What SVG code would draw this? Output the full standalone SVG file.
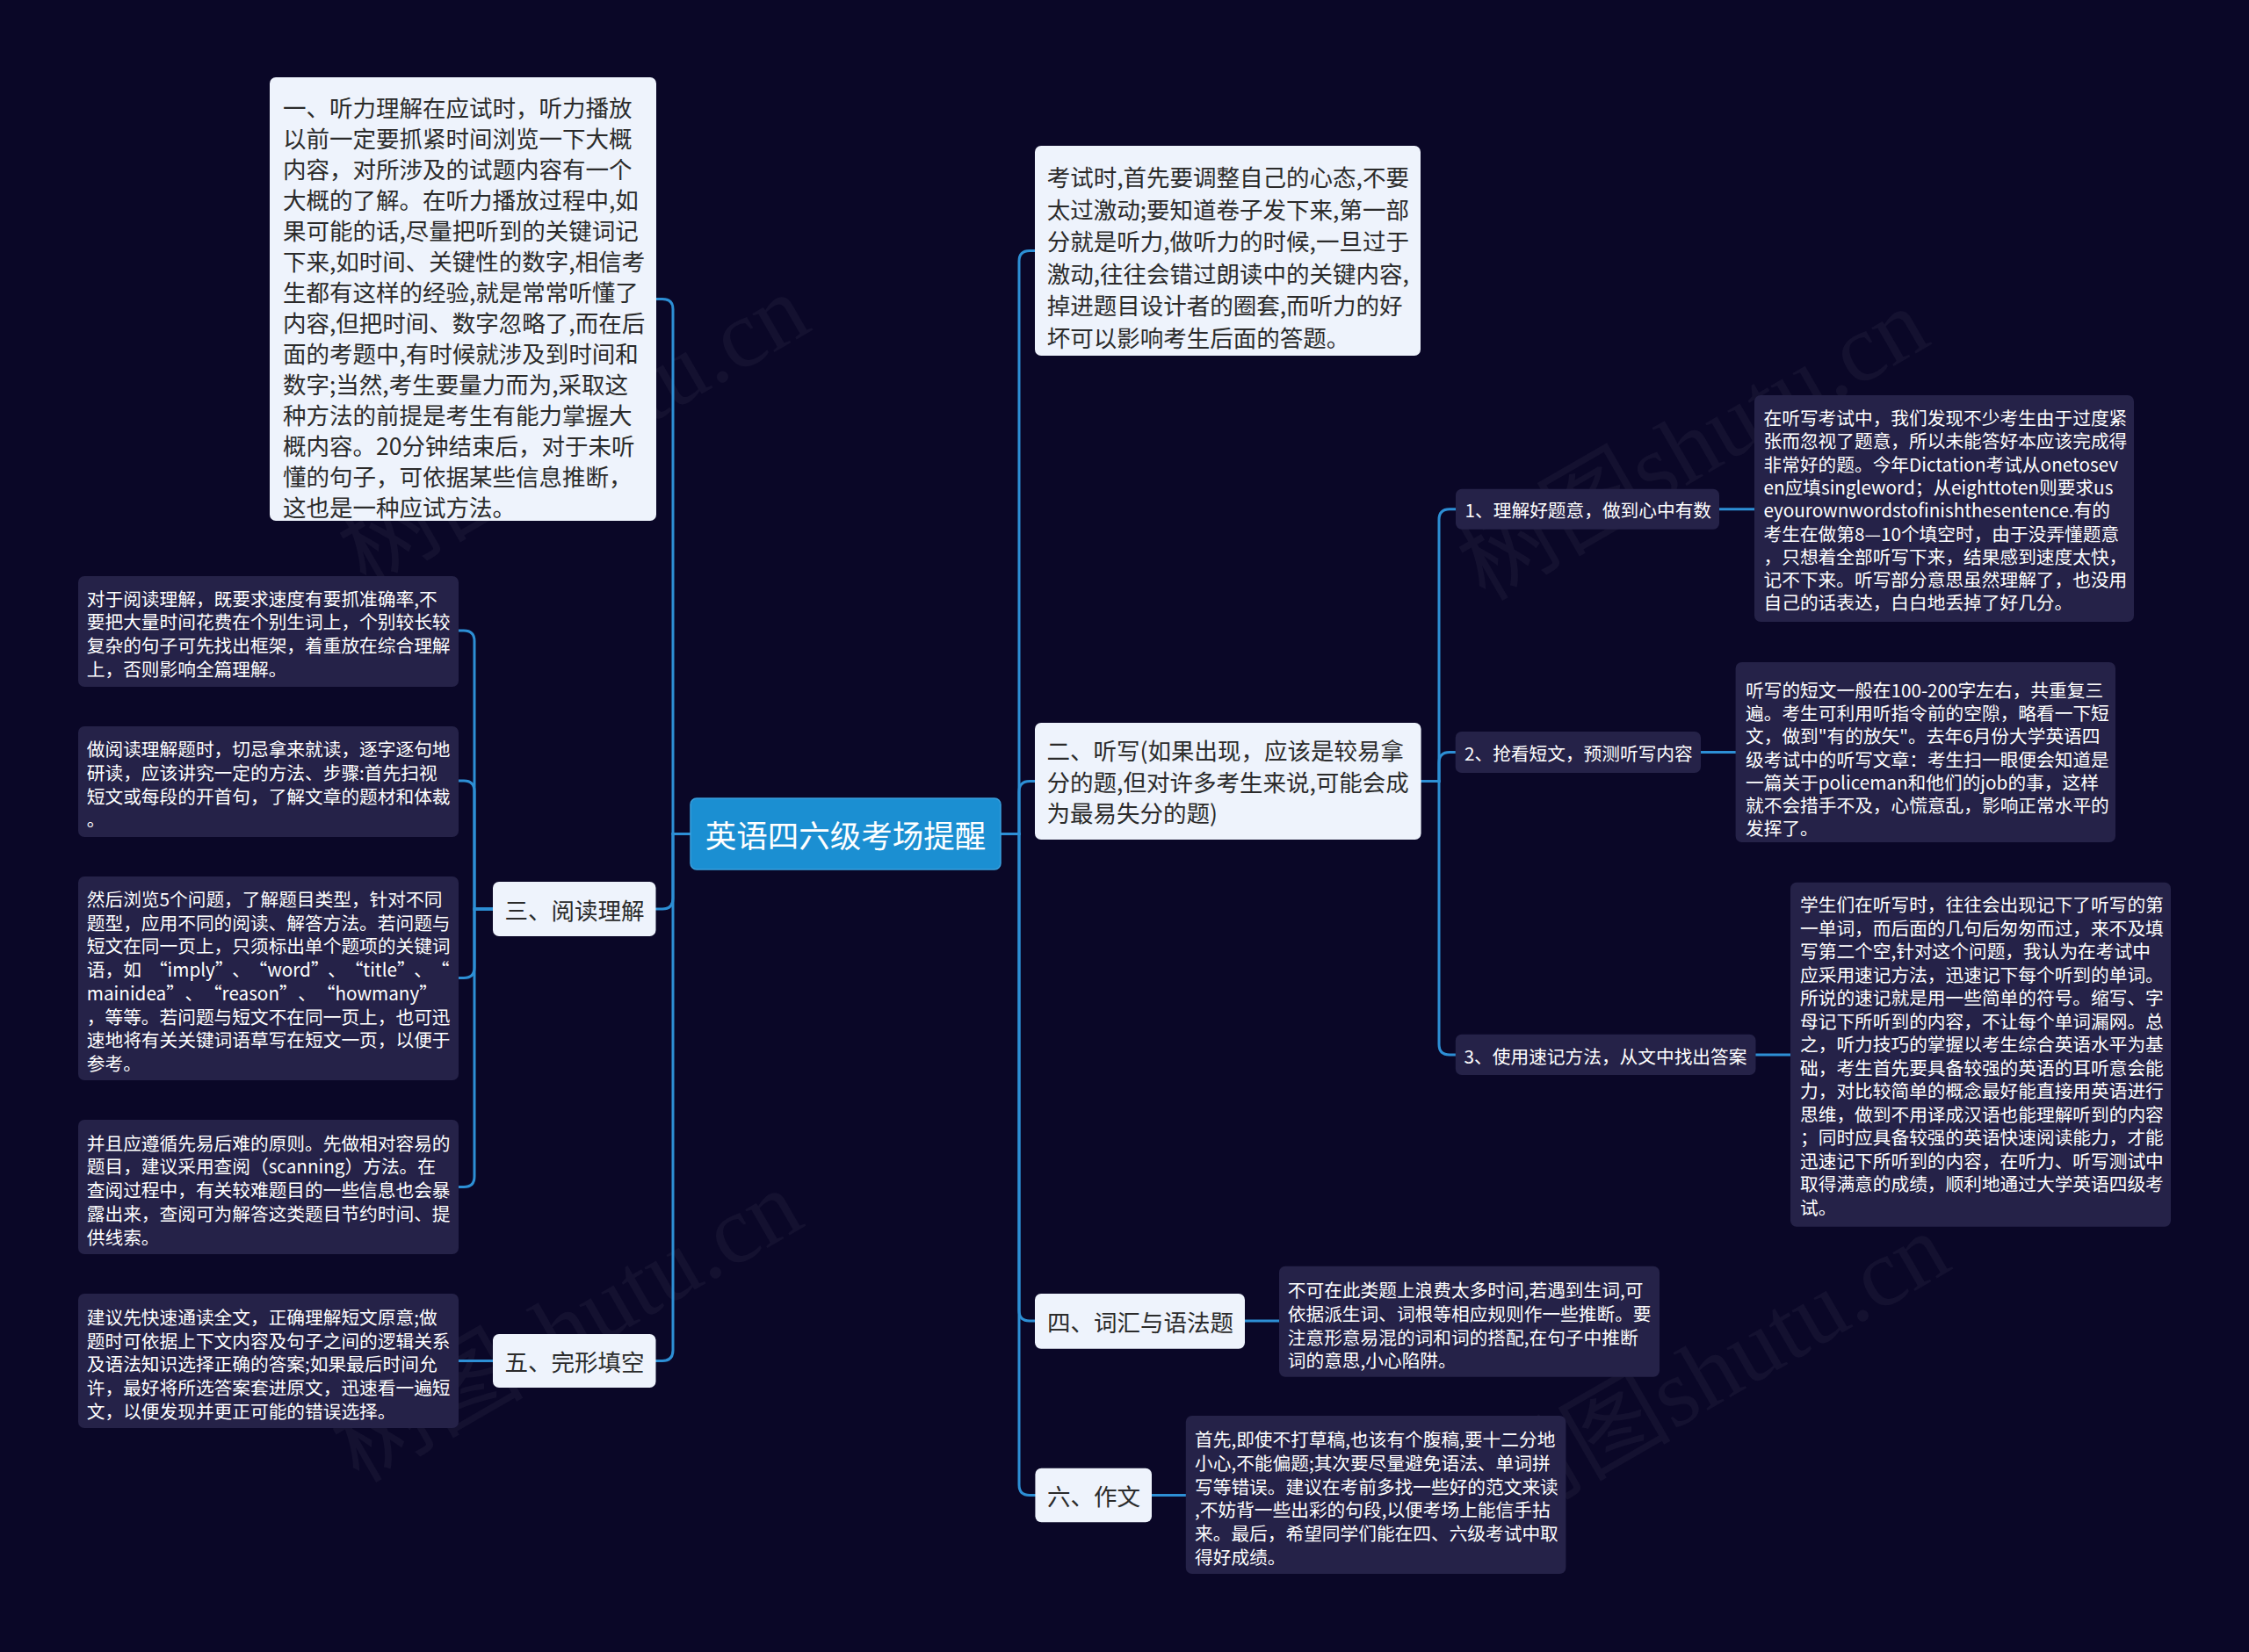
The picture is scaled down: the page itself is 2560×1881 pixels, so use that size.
<svg xmlns="http://www.w3.org/2000/svg" width="2560" height="1881" viewBox="0 0 2560 1881">
<style>
text{font-family:"Noto Sans CJK SC","Noto Sans",sans-serif;dominant-baseline:central}
.bg{fill:#0a0727}
.light{fill:#eef3fc}
.dark{fill:#252248}
.root{fill:#1b8fd2;stroke:#3aa0de;stroke-width:1.5}
.tl{font-size:26.5px;fill:#2b2b2b}
.ts{font-size:20.7px;fill:#ffffff}
.tr{font-size:35.5px;fill:#ffffff;text-anchor:middle}
.wm{font-size:110px;fill:#ffffff;fill-opacity:0.045;font-family:"Liberation Serif","Noto Sans CJK SC",serif}
#connectors path{fill:none;stroke:#2d8fd5;stroke-width:3;stroke-linecap:round}
</style>
<rect class="bg" x="0" y="0" width="2560" height="1881"/>
<g id="watermarks">
<text class="wm" x="653" y="490" text-anchor="middle" transform="rotate(-30 653 490)">树图shutu.cn</text>
<text class="wm" x="1927" y="506" text-anchor="middle" transform="rotate(-30 1927 506)">树图shutu.cn</text>
<text class="wm" x="645" y="1510" text-anchor="middle" transform="rotate(-30 645 1510)">树图shutu.cn</text>
<text class="wm" x="1951" y="1559" text-anchor="middle" transform="rotate(-30 1951 1559)">树图shutu.cn</text>
</g>
<g id="connectors">
<path d="M786 949.5 H766 V352 Q766 340.5 754 340.5 H747"/>
<path d="M786 949.5 H766 V1023 Q766 1035 754 1035 H746.5"/>
<path d="M786 949.5 H766 V1537.5 Q766 1549.5 754 1549.5 H746.5"/>
<path d="M561 1035 H540 V730 Q540 718 528 718 H522"/>
<path d="M561 1035 H540 V901 Q540 889 528 889 H522"/>
<path d="M561 1035 H540 V1101.5 Q540 1113.5 528 1113.5 H522"/>
<path d="M561 1035 H540 V1339.5 Q540 1351.5 528 1351.5 H522"/>
<path d="M561 1549.5 H522"/>
<path d="M1139 949.5 H1160 V297.5 Q1160 285.5 1172 285.5 H1178"/>
<path d="M1139 949.5 H1160 V901.5 Q1160 889.5 1172 889.5 H1178"/>
<path d="M1139 949.5 H1160 V1492 Q1160 1504 1172 1504 H1178"/>
<path d="M1139 949.5 H1160 V1690.5 Q1160 1702.5 1172 1702.5 H1178.4"/>
<path d="M1617.6 889.5 H1638 V591.7 Q1638 579.7 1650 579.7 H1657"/>
<path d="M1617.6 889.5 H1638 V868.5 Q1638 856.5 1650 856.5 H1656.7"/>
<path d="M1617.6 889.5 H1638 V1189 Q1638 1201 1650 1201 H1656.8"/>
<path d="M1957 579.7 H1997"/>
<path d="M1936 856.5 H1975.6"/>
<path d="M1998.5 1201 H2038"/>
<path d="M1417 1504 H1456"/>
<path d="M1311 1702.5 H1349.8"/>
</g>
<g id="root">
<rect class="root" x="786" y="909" width="353" height="81" rx="7"/>
<text class="tr" x="962.5" y="949.5">英语四六级考场提醒</text>
</g>
<g id="n-tingli">
<rect class="light" x="307" y="88" width="440" height="505" rx="7"/>
<text class="tl" x="322" y="121.7">一、听力理解在应试时，听力播放</text>
<text class="tl" x="322" y="156.7">以前一定要抓紧时间浏览一下大概</text>
<text class="tl" x="322" y="191.7">内容，对所涉及的试题内容有一个</text>
<text class="tl" x="322" y="226.7">大概的了解。在听力播放过程中,如</text>
<text class="tl" x="322" y="261.7">果可能的话,尽量把听到的关键词记</text>
<text class="tl" x="322" y="296.7">下来,如时间、关键性的数字,相信考</text>
<text class="tl" x="322" y="331.7">生都有这样的经验,就是常常听懂了</text>
<text class="tl" x="322" y="366.7">内容,但把时间、数字忽略了,而在后</text>
<text class="tl" x="322" y="401.7">面的考题中,有时候就涉及到时间和</text>
<text class="tl" x="322" y="436.7">数字;当然,考生要量力而为,采取这</text>
<text class="tl" x="322" y="471.7">种方法的前提是考生有能力掌握大</text>
<text class="tl" x="322" y="506.7">概内容。20分钟结束后，对于未听</text>
<text class="tl" x="322" y="541.7">懂的句子，可依据某些信息推断，</text>
<text class="tl" x="322" y="576.7">这也是一种应试方法。</text>
</g>
<g id="n-yuedu">
<rect class="light" x="561" y="1004" width="185.5" height="62" rx="7"/>
<text class="tl" x="574.6" y="1035">三、阅读理解</text>
</g>
<g id="n-yuedu-1">
<rect class="dark" x="89" y="656" width="433" height="126" rx="7"/>
<text class="ts" x="98.8" y="680.7">对于阅读理解，既要求速度有要抓准确率,不</text>
<text class="ts" x="98.8" y="707.4">要把大量时间花费在个别生词上，个别较长较</text>
<text class="ts" x="98.8" y="734.1">复杂的句子可先找出框架，着重放在综合理解</text>
<text class="ts" x="98.8" y="760.8">上，否则影响全篇理解。</text>
</g>
<g id="n-yuedu-2">
<rect class="dark" x="89" y="827" width="433" height="126" rx="7"/>
<text class="ts" x="98.8" y="852.3">做阅读理解题时，切忌拿来就读，逐字逐句地</text>
<text class="ts" x="98.8" y="879">研读，应该讲究一定的方法、步骤:首先扫视</text>
<text class="ts" x="98.8" y="905.7">短文或每段的开首句，了解文章的题材和体裁</text>
<text class="ts" x="98.8" y="932.4">。</text>
</g>
<g id="n-yuedu-3">
<rect class="dark" x="89" y="998" width="433" height="232" rx="7"/>
<text class="ts" x="98.8" y="1023">然后浏览5个问题，了解题目类型，针对不同</text>
<text class="ts" x="98.8" y="1049.7">题型，应用不同的阅读、解答方法。若问题与</text>
<text class="ts" x="98.8" y="1076.4">短文在同一页上，只须标出单个题项的关键词</text>
<text class="ts" x="98.8" y="1103.1">语，如<tspan dx="9">“imply”</tspan><tspan dx="9">、</tspan><tspan dx="9">“word”</tspan><tspan dx="9">、</tspan><tspan dx="9">“title”</tspan><tspan dx="9">、</tspan><tspan dx="9">“</tspan></text>
<text class="ts" x="98.8" y="1129.8">mainidea”<tspan dx="11">、</tspan><tspan dx="11">“reason”</tspan><tspan dx="11">、</tspan><tspan dx="11">“howmany”</tspan></text>
<text class="ts" x="98.8" y="1156.5">，等等。若问题与短文不在同一页上，也可迅</text>
<text class="ts" x="98.8" y="1183.2">速地将有关关键词语草写在短文一页，以便于</text>
<text class="ts" x="98.8" y="1209.9">参考。</text>
</g>
<g id="n-yuedu-4">
<rect class="dark" x="89" y="1275" width="433" height="153" rx="7"/>
<text class="ts" x="98.8" y="1300.7">并且应遵循先易后难的原则。先做相对容易的</text>
<text class="ts" x="98.8" y="1327.4">题目，建议采用查阅（scanning）方法。在</text>
<text class="ts" x="98.8" y="1354.1">查阅过程中，有关较难题目的一些信息也会暴</text>
<text class="ts" x="98.8" y="1380.8">露出来，查阅可为解答这类题目节约时间、提</text>
<text class="ts" x="98.8" y="1407.5">供线索。</text>
</g>
<g id="n-wanxing">
<rect class="light" x="561" y="1519" width="185.5" height="61" rx="7"/>
<text class="tl" x="574.6" y="1549.5">五、完形填空</text>
</g>
<g id="n-wanxing-1">
<rect class="dark" x="89" y="1473" width="433" height="153" rx="7"/>
<text class="ts" x="98.8" y="1499">建议先快速通读全文，正确理解短文原意;做</text>
<text class="ts" x="98.8" y="1525.7">题时可依据上下文内容及句子之间的逻辑关系</text>
<text class="ts" x="98.8" y="1552.4">及语法知识选择正确的答案;如果最后时间允</text>
<text class="ts" x="98.8" y="1579.1">许，最好将所选答案套进原文，迅速看一遍短</text>
<text class="ts" x="98.8" y="1605.8">文，以便发现并更正可能的错误选择。</text>
</g>
<g id="n-xintai">
<rect class="light" x="1178" y="166" width="439" height="239" rx="7"/>
<text class="tl" x="1191.7" y="200.5">考试时,首先要调整自己的心态,不要</text>
<text class="tl" x="1191.7" y="237">太过激动;要知道卷子发下来,第一部</text>
<text class="tl" x="1191.7" y="273.5">分就是听力,做听力的时候,一旦过于</text>
<text class="tl" x="1191.7" y="310">激动,往往会错过朗读中的关键内容,</text>
<text class="tl" x="1191.7" y="346.5">掉进题目设计者的圈套,而听力的好</text>
<text class="tl" x="1191.7" y="383">坏可以影响考生后面的答题。</text>
</g>
<g id="n-tingxie">
<rect class="light" x="1178" y="823" width="439.6" height="133" rx="7"/>
<text class="tl" x="1191.6" y="853.3">二、听写(如果出现，应该是较易拿</text>
<text class="tl" x="1191.6" y="889">分的题,但对许多考生来说,可能会成</text>
<text class="tl" x="1191.6" y="924.7">为最易失分的题)</text>
</g>
<g id="n-tingxie-1">
<rect class="dark" x="1657" y="556.7" width="300" height="46" rx="7"/>
<text class="ts" x="1667.6" y="580">1、理解好题意，做到心中有数</text>
</g>
<g id="n-tingxie-1-d">
<rect class="dark" x="1997" y="450" width="432" height="258" rx="7"/>
<text class="ts" x="2007.5" y="475">在听写考试中，我们发现不少考生由于过度紧</text>
<text class="ts" x="2007.5" y="501.3">张而忽视了题意，所以未能答好本应该完成得</text>
<text class="ts" x="2007.5" y="527.6">非常好的题。今年Dictation考试从onetosev</text>
<text class="ts" x="2007.5" y="553.9">en应填singleword；从eighttoten则要求us</text>
<text class="ts" x="2007.5" y="580.2">eyourownwordstofinishthesentence.有的</text>
<text class="ts" x="2007.5" y="606.5">考生在做第8—10个填空时，由于没弄懂题意</text>
<text class="ts" x="2007.5" y="632.8">，只想着全部听写下来，结果感到速度太快，</text>
<text class="ts" x="2007.5" y="659.1">记不下来。听写部分意思虽然理解了，也没用</text>
<text class="ts" x="2007.5" y="685.4">自己的话表达，白白地丢掉了好几分。</text>
</g>
<g id="n-tingxie-2">
<rect class="dark" x="1656.7" y="833" width="279.3" height="47" rx="7"/>
<text class="ts" x="1667" y="856.7">2、抢看短文，预测听写内容</text>
</g>
<g id="n-tingxie-2-d">
<rect class="dark" x="1975.6" y="754" width="432.4" height="205" rx="7"/>
<text class="ts" x="1987" y="785">听写的短文一般在100-200字左右，共重复三</text>
<text class="ts" x="1987" y="811.2">遍。考生可利用听指令前的空隙，略看一下短</text>
<text class="ts" x="1987" y="837.4">文，做到"有的放矢"。去年6月份大学英语四</text>
<text class="ts" x="1987" y="863.6">级考试中的听写文章：考生扫一眼便会知道是</text>
<text class="ts" x="1987" y="889.8">一篇关于policeman和他们的job的事，这样</text>
<text class="ts" x="1987" y="916">就不会措手不及，心慌意乱，影响正常水平的</text>
<text class="ts" x="1987" y="942.2">发挥了。</text>
</g>
<g id="n-tingxie-3">
<rect class="dark" x="1656.8" y="1177.7" width="341.7" height="46.3" rx="7"/>
<text class="ts" x="1666.6" y="1201.5">3、使用速记方法，从文中找出答案</text>
</g>
<g id="n-tingxie-3-d">
<rect class="dark" x="2038" y="1004.7" width="433" height="392" rx="7"/>
<text class="ts" x="2049" y="1029">学生们在听写时，往往会出现记下了听写的第</text>
<text class="ts" x="2049" y="1055.5">一单词，而后面的几句后匆匆而过，来不及填</text>
<text class="ts" x="2049" y="1082">写第二个空,针对这个问题，我认为在考试中</text>
<text class="ts" x="2049" y="1108.5">应采用速记方法，迅速记下每个听到的单词。</text>
<text class="ts" x="2049" y="1135">所说的速记就是用一些简单的符号。缩写、字</text>
<text class="ts" x="2049" y="1161.5">母记下所听到的内容，不让每个单词漏网。总</text>
<text class="ts" x="2049" y="1188">之，听力技巧的掌握以考生综合英语水平为基</text>
<text class="ts" x="2049" y="1214.5">础，考生首先要具备较强的英语的耳听意会能</text>
<text class="ts" x="2049" y="1241">力，对比较简单的概念最好能直接用英语进行</text>
<text class="ts" x="2049" y="1267.5">思维，做到不用译成汉语也能理解听到的内容</text>
<text class="ts" x="2049" y="1294">；同时应具备较强的英语快速阅读能力，才能</text>
<text class="ts" x="2049" y="1320.5">迅速记下所听到的内容，在听力、听写测试中</text>
<text class="ts" x="2049" y="1347">取得满意的成绩，顺利地通过大学英语四级考</text>
<text class="ts" x="2049" y="1373.5">试。</text>
</g>
<g id="n-cihui">
<rect class="light" x="1178" y="1473" width="239" height="62.7" rx="7"/>
<text class="tl" x="1192" y="1504">四、词汇与语法题</text>
</g>
<g id="n-cihui-d">
<rect class="dark" x="1456" y="1441.7" width="433" height="126" rx="7"/>
<text class="ts" x="1465.8" y="1468.3">不可在此类题上浪费太多时间,若遇到生词,可</text>
<text class="ts" x="1465.8" y="1495">依据派生词、词根等相应规则作一些推断。要</text>
<text class="ts" x="1465.8" y="1521.7">注意形意易混的词和词的搭配,在句子中推断</text>
<text class="ts" x="1465.8" y="1548.4">词的意思,小心陷阱。</text>
</g>
<g id="n-zuowen">
<rect class="light" x="1178.4" y="1671.7" width="132.6" height="61.6" rx="7"/>
<text class="tl" x="1192" y="1702">六、作文</text>
</g>
<g id="n-zuowen-d">
<rect class="dark" x="1349.8" y="1612" width="432.6" height="180" rx="7"/>
<text class="ts" x="1360" y="1638.3">首先,即使不打草稿,也该有个腹稿,要十二分地</text>
<text class="ts" x="1360" y="1665">小心,不能偏题;其次要尽量避免语法、单词拼</text>
<text class="ts" x="1360" y="1691.7">写等错误。建议在考前多找一些好的范文来读</text>
<text class="ts" x="1360" y="1718.4">,不妨背一些出彩的句段,以便考场上能信手拈</text>
<text class="ts" x="1360" y="1745.1">来。最后，希望同学们能在四、六级考试中取</text>
<text class="ts" x="1360" y="1771.8">得好成绩。</text>
</g>
</svg>
